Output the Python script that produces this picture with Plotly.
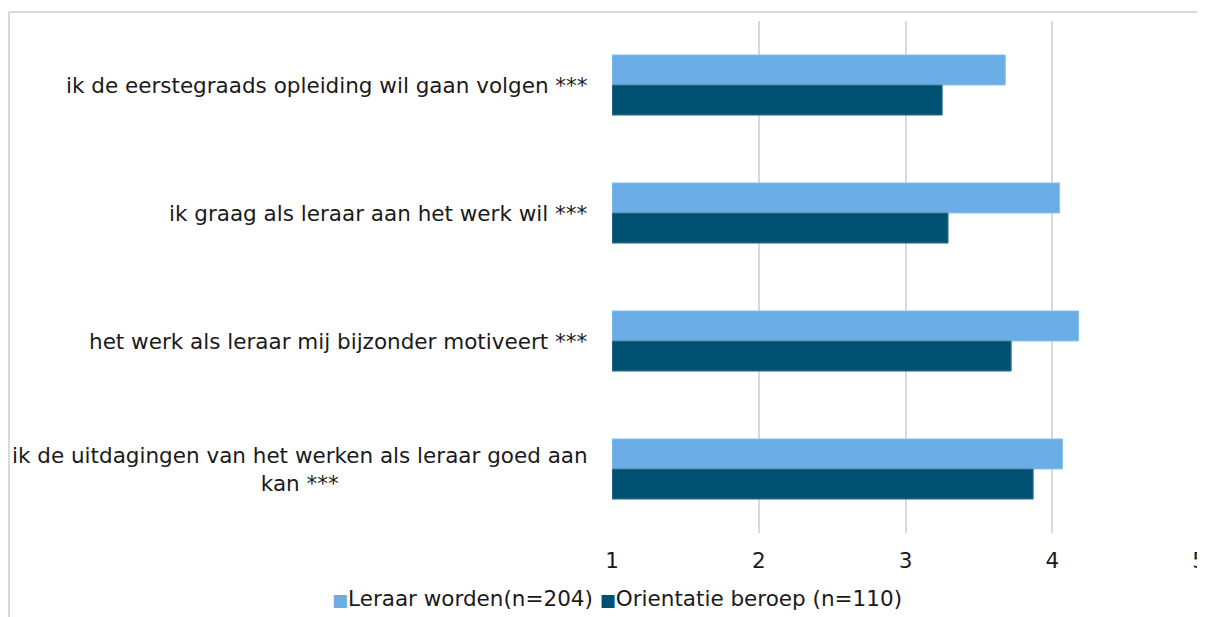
import plotly.graph_objects as go

categories = [
    "ik de eerstegraads opleiding wil gaan volgen ***",
    "ik graag als leraar aan het werk wil ***",
    "het werk als leraar mij bijzonder motiveert ***",
    "ik de uitdagingen van het werken als leraar goed aan<br>kan ***",
]
series_names = ["Leraar worden(n=204)", "Orientatie beroep (n=110)"]
series_colors = ["#6aade4", "#005071"]
leraar_worden = [3.68, 4.05, 4.18, 4.07]
orientatie_beroep = [3.25, 3.29, 3.72, 3.87]
x_ticks = [1, 2, 3, 4, 5]

# page has an 8px body margin; layout measured in figure pixels
W, H = 1205, 617
L, R, T, B = 604, 14, 13, 92
FONT = "DejaVu Sans, Verdana, sans-serif"
FS = 21.5

fig = go.Figure()
fig.add_trace(go.Bar(
    y=categories, x=[v - 1 for v in leraar_worden], base=1, orientation="h",
    name=series_names[0], marker=dict(color=series_colors[0], line=dict(color="#8fc2ee", width=1)),
))
fig.add_trace(go.Bar(
    y=categories, x=[v - 1 for v in orientatie_beroep], base=1, orientation="h",
    name=series_names[1], marker=dict(color=series_colors[1], line=dict(color="#3a7a95", width=1)),
))

pw, ph = W - L - R, H - T - B
for c in categories:
    fig.add_annotation(
        x=-22 / pw, xref="paper", y=c, yref="y", text=c, showarrow=False,
        xanchor="right", yanchor="middle", align="center",
        font=dict(family=FONT, size=FS, color="#1a1a1a"),
    )

# legend drawn as text with coloured squares
legend_text = " ".join(
    f'<span style="color:{col};font-size:17px">■</span>{name}'
    for name, col in zip(series_names, series_colors)
)
fig.add_annotation(
    x=(609 - L) / pw, xref="paper", y=-(590 - (T + ph)) / ph, yref="paper",
    text=legend_text, showarrow=False, xanchor="center", yanchor="middle",
    font=dict(family=FONT, size=FS, color="#1a1a1a"),
)

# outer chart border (top and left)
fig.add_shape(type="line", xref="paper", yref="paper",
              x0=(1 - L) / pw, x1=(W - L) / pw, y0=1 + (T - 4) / ph, y1=1 + (T - 4) / ph,
              line=dict(color="#d9d9d9", width=2))
fig.add_shape(type="line", xref="paper", yref="paper",
              x0=(1 - L) / pw, x1=(1 - L) / pw, y0=1 + (T - 4) / ph, y1=-(B + 5) / ph,
              line=dict(color="#d9d9d9", width=2))

fig.update_layout(
    width=W, height=H,
    margin=dict(l=L, r=R, t=T, b=B, autoexpand=False),
    plot_bgcolor="white", paper_bgcolor="white",
    barmode="group", bargap=0.53, bargroupgap=0,
    font=dict(family=FONT, size=FS, color="#1a1a1a"),
    xaxis=dict(range=[1, 5], tickvals=x_ticks, showgrid=True, gridcolor="#d9d9d9", gridwidth=2,
               zeroline=False, showline=False, ticks="", ticklabelstandoff=12,
               tickfont=dict(size=FS)),
    yaxis=dict(autorange="reversed", showticklabels=False, showgrid=False, zeroline=False,
               showline=False, ticks=""),
    showlegend=False,
)
fig.write_html("out.html")
